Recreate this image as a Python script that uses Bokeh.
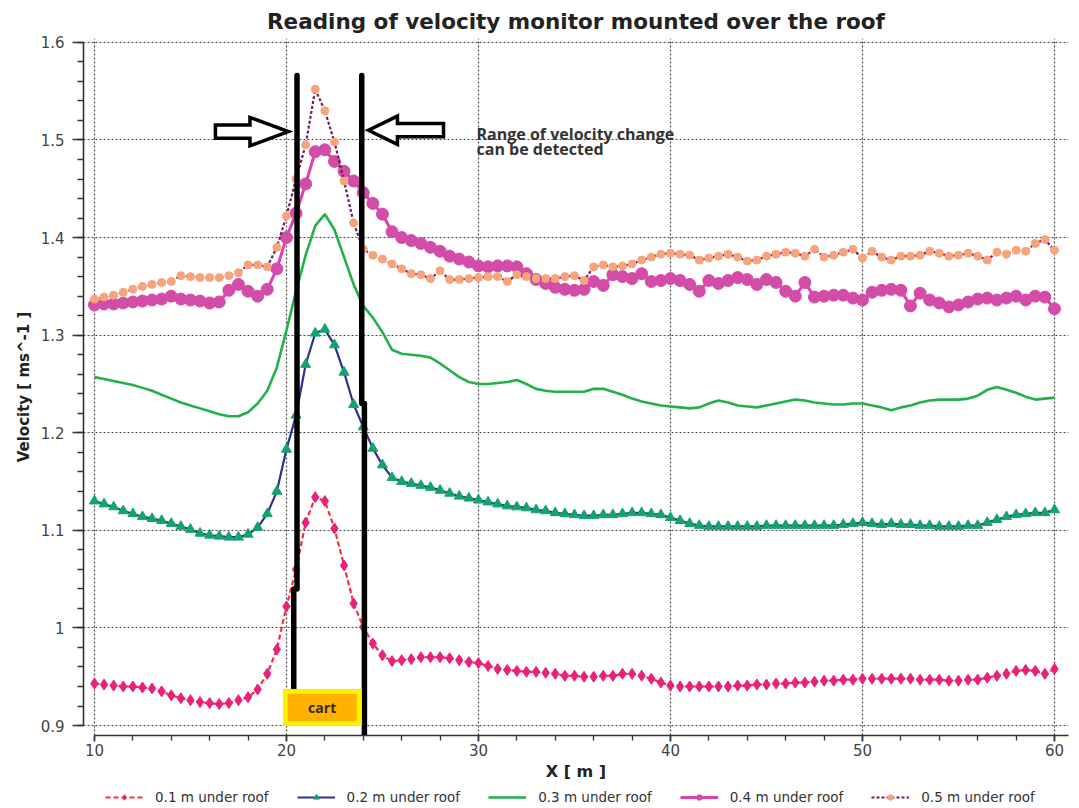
from bokeh.plotting import figure
from bokeh.layouts import column
from bokeh.models import (Range1d, SingleIntervalTicker, NumeralTickFormatter, Legend,
                          LegendItem, Label, ColumnDataSource)
from bokeh.embed import file_html
from bokeh.resources import INLINE

# ---------------- data ----------------
x_m = [10 + 0.5 * i for i in range(101)]

v01 = [0.943, 0.942, 0.941, 0.940, 0.940, 0.939, 0.938, 0.935, 0.931, 0.928,
       0.926, 0.924, 0.923, 0.922, 0.923, 0.926, 0.929, 0.937, 0.953, 0.978,
       1.022, 1.060, 1.108, 1.134, 1.130, 1.102, 1.064, 1.025, 1.001, 0.984,
       0.972, 0.966, 0.967, 0.968, 0.970, 0.970, 0.970, 0.969, 0.967, 0.965,
       0.964, 0.961, 0.958, 0.957, 0.956, 0.955, 0.955, 0.954, 0.953, 0.951,
       0.951, 0.950, 0.950, 0.951, 0.951, 0.953, 0.953, 0.951, 0.948, 0.944,
       0.941, 0.940, 0.940, 0.940, 0.940, 0.940, 0.940, 0.941, 0.941, 0.942,
       0.942, 0.943, 0.943, 0.944, 0.944, 0.945, 0.946, 0.946, 0.947, 0.947,
       0.948, 0.948, 0.948, 0.948, 0.948, 0.948, 0.947, 0.947, 0.947, 0.946,
       0.946, 0.947, 0.947, 0.949, 0.951, 0.953, 0.956, 0.957, 0.956, 0.953,
       0.958]

v02 = [1.130, 1.127, 1.124, 1.120, 1.117, 1.114, 1.112, 1.110, 1.107, 1.104,
       1.101, 1.097, 1.095, 1.094, 1.093, 1.093, 1.096, 1.103, 1.117, 1.140,
       1.183, 1.218, 1.270, 1.302, 1.306, 1.290, 1.262, 1.229, 1.206, 1.184,
       1.167, 1.154, 1.150, 1.148, 1.146, 1.144, 1.141, 1.138, 1.135, 1.133,
       1.131, 1.129, 1.127, 1.125, 1.124, 1.123, 1.121, 1.120, 1.118, 1.117,
       1.116, 1.115, 1.115, 1.116, 1.116, 1.117, 1.118, 1.118, 1.117, 1.116,
       1.113, 1.110, 1.107, 1.105, 1.104, 1.104, 1.104, 1.104, 1.104, 1.104,
       1.105, 1.105, 1.105, 1.105, 1.105, 1.105, 1.105, 1.105, 1.106, 1.107,
       1.108, 1.107, 1.106, 1.107, 1.106, 1.106, 1.105, 1.105, 1.104, 1.104,
       1.104, 1.105, 1.105, 1.108, 1.111, 1.114, 1.116, 1.117, 1.118, 1.118,
       1.121]

v03 = [1.257, 1.255, 1.253, 1.251, 1.249, 1.246, 1.243, 1.239, 1.235, 1.231,
       1.228, 1.225, 1.222, 1.219, 1.217, 1.217, 1.221, 1.230, 1.243, 1.267,
       1.305, 1.345, 1.382, 1.412, 1.424, 1.408, 1.380, 1.352, 1.330, 1.318,
       1.303, 1.285, 1.281, 1.280, 1.279, 1.277, 1.271, 1.264, 1.257, 1.252,
       1.250, 1.250, 1.251, 1.252, 1.254, 1.250, 1.245, 1.243, 1.242, 1.242,
       1.242, 1.242, 1.245, 1.245, 1.242, 1.239, 1.235, 1.232, 1.230, 1.228,
       1.227, 1.226, 1.225, 1.226, 1.230, 1.233, 1.231, 1.228, 1.227, 1.226,
       1.228, 1.230, 1.232, 1.234, 1.233, 1.231, 1.230, 1.229, 1.229, 1.230,
       1.230, 1.228, 1.226, 1.223, 1.226, 1.228, 1.231, 1.233, 1.234, 1.234,
       1.234, 1.235, 1.238, 1.244, 1.247, 1.244, 1.241, 1.237, 1.234, 1.235,
       1.236]

v04 = [1.331, 1.332, 1.332, 1.333, 1.334, 1.335, 1.336, 1.337, 1.340, 1.337,
       1.336, 1.335, 1.333, 1.334, 1.346, 1.352, 1.345, 1.340, 1.347, 1.368,
       1.400, 1.425, 1.455, 1.488, 1.490, 1.478, 1.468, 1.458, 1.446, 1.435,
       1.424, 1.406, 1.400, 1.397, 1.394, 1.390, 1.386, 1.381, 1.378, 1.375,
       1.371, 1.370, 1.371, 1.371, 1.370, 1.363, 1.357, 1.353, 1.349, 1.347,
       1.346, 1.347, 1.355, 1.351, 1.362, 1.360, 1.358, 1.363, 1.355, 1.356,
       1.358, 1.356, 1.352, 1.345, 1.356, 1.353, 1.356, 1.359, 1.357, 1.352,
       1.357, 1.354, 1.345, 1.340, 1.354, 1.339, 1.340, 1.341, 1.341, 1.338,
       1.336, 1.344, 1.346, 1.347, 1.346, 1.330, 1.343, 1.336, 1.333, 1.329,
       1.331, 1.334, 1.337, 1.338, 1.336, 1.338, 1.340, 1.336, 1.340, 1.339,
       1.327]

v05 = [1.337, 1.339, 1.341, 1.344, 1.347, 1.350, 1.352, 1.354, 1.355, 1.361,
       1.360, 1.359, 1.359, 1.359, 1.361, 1.364, 1.372, 1.372, 1.370, 1.390,
       1.422, 1.460, 1.495, 1.552, 1.530, 1.498, 1.458, 1.415, 1.388, 1.382,
       1.378, 1.373, 1.368, 1.363, 1.362, 1.358, 1.366, 1.357, 1.357, 1.358,
       1.359, 1.360, 1.360, 1.355, 1.362, 1.360, 1.358, 1.358, 1.358, 1.360,
       1.361, 1.356, 1.370, 1.372, 1.370, 1.371, 1.373, 1.377, 1.380, 1.383,
       1.384, 1.383, 1.382, 1.377, 1.379, 1.381, 1.383, 1.380, 1.376, 1.377,
       1.381, 1.383, 1.385, 1.384, 1.381, 1.388, 1.380, 1.382, 1.385, 1.388,
       1.379, 1.386, 1.380, 1.377, 1.381, 1.381, 1.382, 1.386, 1.384, 1.381,
       1.382, 1.384, 1.381, 1.377, 1.385, 1.383, 1.387, 1.386, 1.394, 1.398,
       1.387]

series_labels = ["0.1 m under roof", "0.2 m under roof", "0.3 m under roof",
                 "0.4 m under roof", "0.5 m under roof"]

# annotation geometry (hand-drawn marks in the original)
bar_x0 = [20.55, 20.38, 23.92, 24.06]
bar_y0 = [1.566, 1.040, 1.566, 1.230]
bar_x1 = [20.55, 20.38, 23.92, 24.06]
bar_y1 = [1.040, 0.936, 1.230, 0.889]

arrow_left_x = [16.30, 18.10, 18.10, 20.10, 18.10, 18.10, 16.30]
arrow_left_y = [1.5154, 1.5154, 1.5231, 1.5086, 1.4941, 1.5018, 1.5018]
arrow_right_x = [28.18, 25.78, 25.78, 24.27, 25.78, 25.78, 28.18]
arrow_right_y = [1.5168, 1.5168, 1.5245, 1.5100, 1.4955, 1.5032, 1.5032]

cart_outer = (19.84, 23.90, 0.900, 0.937)
cart_inner = (20.06, 23.66, 0.9045, 0.9325)

# ---------------- styles ----------------
FONT = "DejaVu Sans"
STY = {
    "l1": dict(line_color="#ff2a3a", line_width=2.2, line_dash="5 3"),
    "m1": dict(marker="diamond", size=11, fill_color="#e8217c", line_color="#e8217c"),
    "l2": dict(line_color="#2e3192", line_width=2.2),
    "m2": dict(marker="triangle", size=10, fill_color="#13a36e", line_color="#13a36e"),
    "l3": dict(line_color="#23b04b", line_width=2.6),
    "l4": dict(line_color="#e03fae", line_width=3),
    "m4": dict(marker="circle", size=12, fill_color="#d24ca8", line_color="#d24ca8"),
    "l5": dict(line_color="#6e1f5a", line_width=2.2, line_dash="3 2"),
    "m5": dict(marker="circle", size=8, fill_color="#f7a47c", line_color="#f7a47c"),
}

# ---------------- main figure ----------------
p = figure(frame_width=985, frame_height=697, output_backend="svg", toolbar_location=None,
           x_range=Range1d(9.43, 60.73), y_range=Range1d(0.8898, 1.604),
           min_border_left=83, min_border_right=11, min_border_top=38,
           min_border_bottom=50)

p.title.text = "Reading of velocity monitor mounted over the roof"
p.title.align = "center"
p.title.text_font = FONT
p.title.text_font_style = "bold"
p.title.text_font_size = "21.5px"
p.title.text_color = "#222222"
p.title.offset = 0
p.title.standoff = 10

p.outline_line_color = None
p.background_fill_color = "white"
p.border_fill_color = "white"

p.xaxis.ticker = SingleIntervalTicker(interval=10, num_minor_ticks=5)
p.yaxis.ticker = SingleIntervalTicker(interval=0.1, num_minor_ticks=5)
p.yaxis.formatter = NumeralTickFormatter(format="0.[0]")
p.xaxis.formatter = NumeralTickFormatter(format="0")
p.yaxis.bounds = (0.9, 1.6)
p.xaxis.bounds = (10, 60.73)

for ax in (p.xaxis[0], p.yaxis[0]):
    ax.axis_line_color = "#333333"
    ax.axis_line_width = 1.6
    ax.major_tick_line_color = "#333333"
    ax.minor_tick_line_color = "#333333"
    ax.major_tick_line_width = 1.6
    ax.minor_tick_line_width = 1.3
    ax.major_tick_in = 0
    ax.minor_tick_in = 0
    ax.major_label_text_font = FONT
    ax.major_label_text_font_size = "15px"
    ax.major_label_text_color = "#444444"
    ax.axis_label_text_font = FONT
    ax.axis_label_text_font_style = "bold"
    ax.axis_label_text_color = "#222222"

p.yaxis.major_tick_out = 11
p.yaxis.minor_tick_out = 6
p.yaxis.major_label_standoff = 8
p.yaxis.axis_label = "Velocity [ ms^-1 ]"
p.yaxis.axis_label_text_font_size = "15px"
p.yaxis.axis_label_standoff = 5

p.xaxis.major_tick_out = 6
p.xaxis.minor_tick_out = 5
p.xaxis.major_label_standoff = 2
p.xaxis.axis_label = "X [ m ]"
p.xaxis.axis_label_text_font_size = "16px"
p.xaxis.axis_label_standoff = 3

for g in (p.xgrid[0], p.ygrid[0]):
    g.grid_line_color = "#333333"
    g.grid_line_dash = "2 2"
    g.grid_line_width = 1.2
    g.grid_line_alpha = 0.9

src = ColumnDataSource(dict(x=x_m, v01=v01, v02=v02, v03=v03, v04=v04, v05=v05))

p.line("x", "v03", source=src, **STY["l3"])
p.line("x", "v01", source=src, **STY["l1"])
p.scatter("x", "v01", source=src, **STY["m1"])
p.line("x", "v02", source=src, **STY["l2"])
p.scatter("x", "v02", source=src, **STY["m2"])
p.line("x", "v04", source=src, **STY["l4"])
p.scatter("x", "v04", source=src, **STY["m4"])
p.line("x", "v05", source=src, **STY["l5"])
p.scatter("x", "v05", source=src, **STY["m5"])

# annotations: detection range bars and arrows
p.segment(x0=bar_x0, y0=bar_y0, x1=bar_x1, y1=bar_y1, line_color="black",
          line_width=5.5, line_cap="round")
p.patches(xs=[arrow_left_x, arrow_right_x], ys=[arrow_left_y, arrow_right_y],
          fill_color="white", line_color="black", line_width=3.5, line_join="miter")

p.add_layout(Label(x=29.9, y=1.5066, text="Range of velocity change",
                   text_font="Open Sans", text_font_style="bold", text_font_size="16px",
                   text_color="#333333", text_baseline="alphabetic"))
p.add_layout(Label(x=29.9, y=1.4905, text="can be detected",
                   text_font="Open Sans", text_font_style="bold", text_font_size="16px",
                   text_color="#333333", text_baseline="alphabetic"))

p.quad(left=[cart_outer[0]], right=[cart_outer[1]], bottom=[cart_outer[2]], top=[cart_outer[3]],
       fill_color="#fff200", line_color="#ffe600", line_width=1)
p.quad(left=[cart_inner[0]], right=[cart_inner[1]], bottom=[cart_inner[2]], top=[cart_inner[3]],
       fill_color="#ffb300", line_color=None)
p.add_layout(Label(x=(cart_inner[0] + cart_inner[1]) / 2, y=(cart_inner[2] + cart_inner[3]) / 2,
                   text="cart", text_font="Open Sans", text_font_style="bold",
                   text_font_size="14px", text_color="#3a2a1a",
                   text_align="center", text_baseline="middle"))

# ---------------- legend strip ----------------
q = figure(width=1079, height=23, output_backend="svg", toolbar_location=None,
           x_range=Range1d(0, 1), y_range=Range1d(0, 1),
           min_border_left=0, min_border_right=0, min_border_top=0, min_border_bottom=0)
q.axis.visible = False
q.grid.visible = False
q.outline_line_color = None
q.border_fill_color = "white"

off = dict(x=[-5, -4], y=[-5, -4])
k1 = [q.line(**off, **STY["l1"]), q.scatter(**off, **STY["m1"])]
k2 = [q.line(**off, **STY["l2"]), q.scatter(**off, **STY["m2"])]
k3 = [q.line(**off, **STY["l3"])]
k4 = [q.line(**off, **STY["l4"]), q.scatter(**off, **STY["m4"])]
k5 = [q.line(**off, **STY["l5"]), q.scatter(**off, **STY["m5"])]

legend = Legend(items=[
    LegendItem(label=series_labels[0], renderers=k1),
    LegendItem(label=series_labels[1], renderers=k2),
    LegendItem(label=series_labels[2], renderers=k3),
    LegendItem(label=series_labels[3], renderers=k4),
    LegendItem(label=series_labels[4], renderers=k5),
], orientation="horizontal", location=(22, 3))
legend.label_text_font = FONT
legend.label_text_font_size = "13.5px"
legend.label_text_color = "#333333"
legend.glyph_width = 38
legend.glyph_height = 14
legend.label_height = 14
legend.label_standoff = 12
legend.spacing = 28
legend.padding = 1
legend.margin = 0
legend.border_line_color = None
legend.background_fill_alpha = 0
q.add_layout(legend, "center")

open("out.html", "w").write(file_html(column(p, q, spacing=0), INLINE))
